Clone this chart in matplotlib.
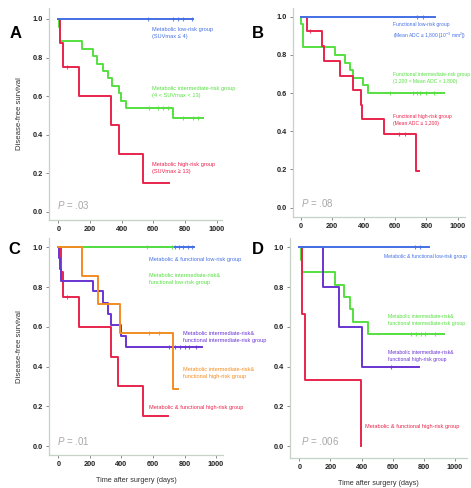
import matplotlib
matplotlib.use("Agg")
import matplotlib.pyplot as plt

plt.rcParams['font.family'] = ['Liberation Sans', 'DejaVu Sans']
plt.rcParams['mathtext.fontset'] = 'custom'
plt.rcParams['mathtext.it'] = 'Liberation Sans:italic'
plt.rcParams['mathtext.rm'] = 'Liberation Sans'

NARROW = ['Liberation Sans Narrow', 'Liberation Sans', 'DejaVu Sans']

BLUE = '#4470e4'
GREEN = '#55e040'
RED = '#e8244c'
ORANGE = '#f28c22'
PURPLE = '#6a34d2'

# ---- panel A: metabolic (SUVmax) groups ----
a_low_t = [0, 850]
a_low_s = [1.0, 1.0]
a_low_c = [569, 726, 758, 790, 843]
a_mid_t = [0, 3, 12, 147, 221, 246, 284, 316, 337, 383, 396, 427, 726, 916]
a_mid_s = [1.0, 0.96, 0.885, 0.846, 0.808, 0.769, 0.731, 0.692, 0.654, 0.615, 0.577, 0.538, 0.485, 0.485]
a_mid_c = [570, 632, 663, 695, 790, 850, 880]
a_high_t = [0, 11, 32, 133, 333, 383, 533, 701]
a_high_s = [1.0, 0.875, 0.75, 0.60, 0.45, 0.30, 0.15, 0.15]
a_high_c = [55]

# ---- panel B: functional (ADC) groups ----
b_low_t = [0, 856]
b_low_s = [1.0, 1.0]
b_low_c = [739, 781]
b_mid_t = [0, 5, 12, 17, 219, 282, 314, 335, 399, 431, 915]
b_mid_s = [1.0, 0.96, 0.92, 0.84, 0.80, 0.76, 0.72, 0.68, 0.64, 0.60, 0.60]
b_mid_c = [569, 718, 740, 760, 800, 850]
b_high_t = [0, 38, 138, 146, 250, 335, 382, 393, 533, 735, 756]
b_high_s = [1.0, 0.923, 0.846, 0.769, 0.692, 0.615, 0.538, 0.462, 0.385, 0.192, 0.192]
b_high_c = [62, 625, 665]

# ---- panel C: combined groups ----
c_low_t = [0, 858]
c_low_s = [1.0, 1.0]
c_low_c = [740, 765, 790, 820, 850]
c_ml_t = [0, 729]
c_ml_s = [1.0, 1.0]
c_ml_c = [560, 720]
c_mm_t = [0, 5, 12, 18, 218, 285, 317, 334, 395, 429, 909]
c_mm_s = [1.0, 0.944, 0.889, 0.833, 0.778, 0.722, 0.667, 0.611, 0.556, 0.50, 0.50]
c_mm_c = [700, 740, 770, 800, 830, 870]
c_mh_t = [0, 148, 249, 391, 729, 761]
c_mh_s = [1.0, 0.857, 0.714, 0.571, 0.286, 0.286]
c_mh_c = [575, 640]
c_high_t = [0, 15, 32, 131, 334, 381, 535, 698]
c_high_s = [1.0, 0.875, 0.75, 0.60, 0.45, 0.30, 0.15, 0.15]
c_high_c = [55]

# ---- panel D: combined groups (ADC cut-offs) ----
d_low_t = [0, 835]
d_low_s = [1.0, 1.0]
d_low_c = [743, 775]
d_mm_t = [0, 8, 15, 229, 289, 325, 347, 443, 931]
d_mm_s = [1.0, 0.937, 0.875, 0.8125, 0.75, 0.6875, 0.625, 0.5625, 0.5625]
d_mm_c = [720, 750, 780, 810, 870]
d_mh_t = [0, 154, 257, 400, 771]
d_mh_s = [1.0, 0.8, 0.6, 0.4, 0.4]
d_mh_c = [589]
d_high_t = [0, 19, 36, 394]
d_high_s = [1.0, 0.667, 0.333, 0.0]

x_ticks = [0, 200, 400, 600, 800, 1000]
y_ticks = [0.0, 0.2, 0.4, 0.6, 0.8, 1.0]


def surv_at(t_list, s_list, t):
    val = s_list[0]
    for tt, ss in zip(t_list, s_list):
        if tt <= t:
            val = ss
    return val


def km(ax, t, s, color, censors=(), z=2):
    ax.step(t, s, where='post', color=color, lw=1.4, zorder=z)
    if censors:
        ys = [surv_at(t, s, c) for c in censors]
        ax.plot(censors, ys, ls='none', marker='|', ms=3.5, mew=0.8,
                color=color, alpha=0.8, zorder=z + 0.5)


def style(ax, xlim, ylim, ylabel=False, xlabel=False):
    ax.set_xlim(*xlim)
    ax.set_ylim(*ylim)
    for side in ['top', 'right']:
        ax.spines[side].set_visible(False)
    for side in ['left', 'bottom']:
        ax.spines[side].set_color('#c5d2c8')
        ax.spines[side].set_linewidth(0.9)
    ax.set_xticks(x_ticks)
    ax.set_yticks(y_ticks)
    ax.set_yticklabels(['%.1f' % v for v in y_ticks])
    ax.tick_params(length=2.5, width=0.6, color='#777777', labelsize=5.3,
                   labelcolor='#222222', pad=2)
    for lab in ax.get_xticklabels() + ax.get_yticklabels():
        lab.set_fontweight('bold')
    if ylabel:
        ax.set_ylabel('Disease-free survival', fontsize=5.6, color='#333333', labelpad=7)
    if xlabel:
        ax.set_xlabel('Time after surgery (days)', fontsize=5.2, color='#333333', labelpad=6)


def note(ax, x, y, s, color, size=4.1):
    ax.text(x, y, s, color=color, fontsize=size, family=NARROW, va='center',
            ha='left', linespacing=1.5, clip_on=False, zorder=5)


def pval(ax, x, y, s):
    ax.text(x, y, r'$P$ = ' + s, color='#a8a8a8', fontsize=7, va='center', ha='left')


W, H = 471, 488
fig = plt.figure(figsize=(W / 100, H / 100), dpi=100)


def add_ax(left, right, top, bottom):
    return fig.add_axes([left / W, 1 - bottom / H, (right - left) / W, (bottom - top) / H])


axA = add_ax(49, 222, 8, 220)
axB = add_ax(293, 465, 8, 217)
axC = add_ax(49, 223, 238, 455)
axD = add_ax(290, 467, 238, 458)

# A
km(axA, a_mid_t, a_mid_s, GREEN, a_mid_c)
km(axA, a_high_t, a_high_s, RED, a_high_c)
km(axA, a_low_t, a_low_s, BLUE, a_low_c, z=3)
style(axA, (-59, 1034), (-0.043, 1.057), ylabel=True)
note(axA, 592, 0.925, 'Metabolic low-risk group\n(SUVmax \u2264 4)', BLUE)
note(axA, 592, 0.62, 'Metabolic intermediate-risk group\n(4 < SUVmax < 13)', GREEN)
note(axA, 592, 0.225, 'Metabolic high-risk group\n(SUVmax \u2265 13)', RED)
pval(axA, -8, 0.035, '.03')

# B
km(axB, b_mid_t, b_mid_s, GREEN, b_mid_c)
km(axB, b_high_t, b_high_s, RED, b_high_c)
km(axB, b_low_t, b_low_s, BLUE, b_low_c, z=3)
style(axB, (-49, 1046), (-0.049, 1.046))
note(axB, 585, 0.925, 'Functional low-risk group\n(Mean ADC \u2265 1,800 [10$^{-3}$ mm$^{2}$])', BLUE, 3.6)
note(axB, 585, 0.678, 'Functional intermediate-risk group\n(1,200 < Mean ADC < 1,800)', GREEN, 3.6)
note(axB, 585, 0.46, 'Functional high-risk group\n(Mean ADC \u2264 1,200)', RED, 3.6)
pval(axB, 4, 0.025, '.08')

# C
km(axC, c_low_t, c_low_s, BLUE, c_low_c)
km(axC, c_ml_t, c_ml_s, GREEN, c_ml_c)
km(axC, c_high_t, c_high_s, RED, c_high_c)
km(axC, c_mm_t, c_mm_s, PURPLE, c_mm_c, z=3)
km(axC, c_mh_t, c_mh_s, ORANGE, c_mh_c, z=4)
style(axC, (-59, 1044), (-0.045, 1.047), ylabel=True, xlabel=True)
note(axC, 575, 0.941, 'Metabolic & functional low-risk group', BLUE)
note(axC, 575, 0.842, 'Metabolic intermediate-risk&\nfunctional low-risk group', GREEN)
note(axC, 793, 0.55, 'Metabolic intermediate-risk&\nfunctional intermediate-risk group', PURPLE)
note(axC, 793, 0.368, 'Metabolic intermediate-risk&\nfunctional high-risk group', ORANGE)
note(axC, 575, 0.195, 'Metabolic & functional high-risk group', RED)
pval(axC, -8, 0.025, '.01')

# D
km(axD, d_mm_t, d_mm_s, GREEN, d_mm_c)
km(axD, d_high_t, d_high_s, RED)
km(axD, d_mh_t, d_mh_s, PURPLE, d_mh_c, z=3)
km(axD, d_low_t, d_low_s, BLUE, d_low_c, z=4)
style(axD, (-60, 1077), (-0.06, 1.047), xlabel=True)
axD.patch.set_alpha(0)
note(axD, 545, 0.955, 'Metabolic & functional low-risk group', BLUE, 3.6)
note(axD, 570, 0.633, 'Metabolic intermediate-risk&\nfunctional intermediate-risk group', GREEN, 3.7)
note(axD, 570, 0.455, 'Metabolic intermediate-risk&\nfunctional high-risk group', PURPLE, 3.7)
note(axD, 422, 0.10, 'Metabolic & functional high-risk group', RED)
pval(axD, 12, 0.025, '.006')

for lab, x, y in [('A', 16, 33), ('B', 258, 33), ('C', 14, 250), ('D', 258, 250)]:
    fig.text(x / W, 1 - y / H, lab, fontsize=12, fontweight='bold', ha='center', va='center')

fig.savefig('out.png', dpi=100)
